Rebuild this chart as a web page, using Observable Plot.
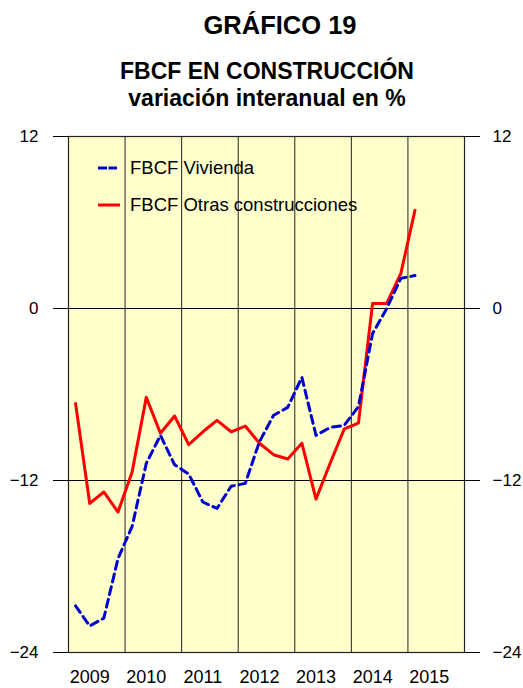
<!DOCTYPE html>
<html>
<head>
<meta charset="utf-8">
<script src="https://cdn.jsdelivr.net/npm/d3@7"></script>
<script src="https://cdn.jsdelivr.net/npm/@observablehq/plot@0.6"></script>
<style>
  html, body { margin: 0; padding: 0; background: #fff; }
  body { width: 523px; height: 688px; position: relative; font-family: "Liberation Sans", Arial, sans-serif; overflow: hidden; }
  .t { position: absolute; transform: translateX(-50%); white-space: nowrap; font-weight: bold; color: #000; }
  #chart { position: absolute; left: 0; top: 120px; }
  .leg { position: absolute; font-size: 18.5px; color: #000; white-space: nowrap; }
</style>
</head>
<body>
<div class="t" style="left:280px; top:13px; font-size:25.5px; line-height:25.5px;">GRÁFICO 19</div>
<div class="t" style="left:267px; top:60px; font-size:23px; line-height:23px;">FBCF EN CONSTRUCCIÓN</div>
<div class="t" style="left:267px; top:86.5px; font-size:23px; line-height:23px;">variación interanual en %</div>
<div id="chart"></div>
<div id="legend"></div>
<script>
// Quarterly data 2009 Q1 – 2015 Q1
const years    = [2009,2009,2009,2009,2010,2010,2010,2010,2011,2011,2011,2011,2012,2012,2012,2012,2013,2013,2013,2013,2014,2014,2014,2014,2015];
const quarters = [1,2,3,4,1,2,3,4,1,2,3,4,1,2,3,4,1,2,3,4,1,2,3,4,1];
const vivienda = [-20.75,-22.15,-21.6,-17.45,-15.2,-10.8,-8.85,-10.9,-11.55,-13.5,-13.95,-12.4,-12.2,-9.3,-7.45,-6.9,-4.8,-8.85,-8.3,-8.15,-6.85,-1.75,0.0,2.1,2.3];
const otras    = [-6.63,-13.6,-12.8,-14.2,-11.4,-6.2,-8.7,-7.5,-9.5,-8.6,-7.8,-8.6,-8.2,-9.4,-10.2,-10.5,-9.4,-13.3,-10.8,-8.4,-8.0,0.35,0.35,2.45,6.86];
const yearLabels = [2009,2010,2011,2012,2013,2014,2015];
const yTicks = [-24,-12,0,12];
const seriesNames = ["FBCF Vivienda","FBCF Otras construcciones"];
const seriesColors = ["#0000cc","#ff0000"];

const t = (i) => years[i] + (quarters[i] - 0.5) / 4;
const dataV = vivienda.map((v,i) => ({x: t(i), y: v}));
const dataO = otras.map((v,i) => ({x: t(i), y: v}));

const chart = Plot.plot({
  width: 523,
  height: 568,
  marginTop: 16,
  marginBottom: 36,
  marginLeft: 68,
  marginRight: 59,
  style: {fontFamily: "'Liberation Sans', Arial, sans-serif", fontSize: "17px", color: "#000", background: "transparent"},
  x: {domain: [2009, 2016]},
  y: {domain: [-24, 12]},
  marks: [
    Plot.frame({fill: "#ffffcc", stroke: null}),
    Plot.gridX({ticks: yearLabels.slice(1), stroke: "#222", strokeOpacity: 1, strokeWidth: 1}),
    Plot.gridY({ticks: yTicks, stroke: "#000", strokeOpacity: 1, strokeWidth: 1}),
    Plot.frame({stroke: "#222", strokeWidth: 1.2}),
    Plot.axisY({anchor: "left", ticks: yTicks, tickSize: 15, tickPadding: 15, label: null, fontSize: 17}),
    Plot.axisY({anchor: "right", ticks: yTicks, tickSize: 15, tickPadding: 13, label: null, fontSize: 17}),
    Plot.axisX({ticks: yearLabels.map(y => y + 0.5), tickFormat: d => String(Math.floor(d)), tickSize: 0, tickPadding: 18, dx: -7, label: null, fontSize: 18}),
    Plot.line(dataO, {x: "x", y: "y", stroke: seriesColors[1], strokeWidth: 3, curve: "linear"}),
    Plot.line(dataV, {x: "x", y: "y", stroke: seriesColors[0], strokeWidth: 3, strokeDasharray: "8,5", curve: "linear"})
  ]
});
document.getElementById("chart").appendChild(chart);

// Legend
const leg = document.getElementById("legend");
const legY = [168, 205];
seriesNames.forEach((name, i) => {
  const s = document.createElementNS("http://www.w3.org/2000/svg", "svg");
  s.setAttribute("width", 24); s.setAttribute("height", 6);
  s.style.position = "absolute"; s.style.left = "97px"; s.style.top = (legY[i] - 3) + "px";
  const l = document.createElementNS("http://www.w3.org/2000/svg", "line");
  l.setAttribute("x1", 1); l.setAttribute("x2", i === 0 ? 20 : 23);
  l.setAttribute("y1", 3); l.setAttribute("y2", 3);
  l.setAttribute("stroke", seriesColors[i]); l.setAttribute("stroke-width", 3);
  if (i === 0) l.setAttribute("stroke-dasharray", "9,1.5");
  s.appendChild(l);
  leg.appendChild(s);
  const d = document.createElement("div");
  d.className = "leg";
  d.textContent = name;
  d.style.left = "130px";
  d.style.top = (legY[i] - 9.5) + "px";
  d.style.lineHeight = "18.5px";
  leg.appendChild(d);
});
</script>
</body>
</html>
